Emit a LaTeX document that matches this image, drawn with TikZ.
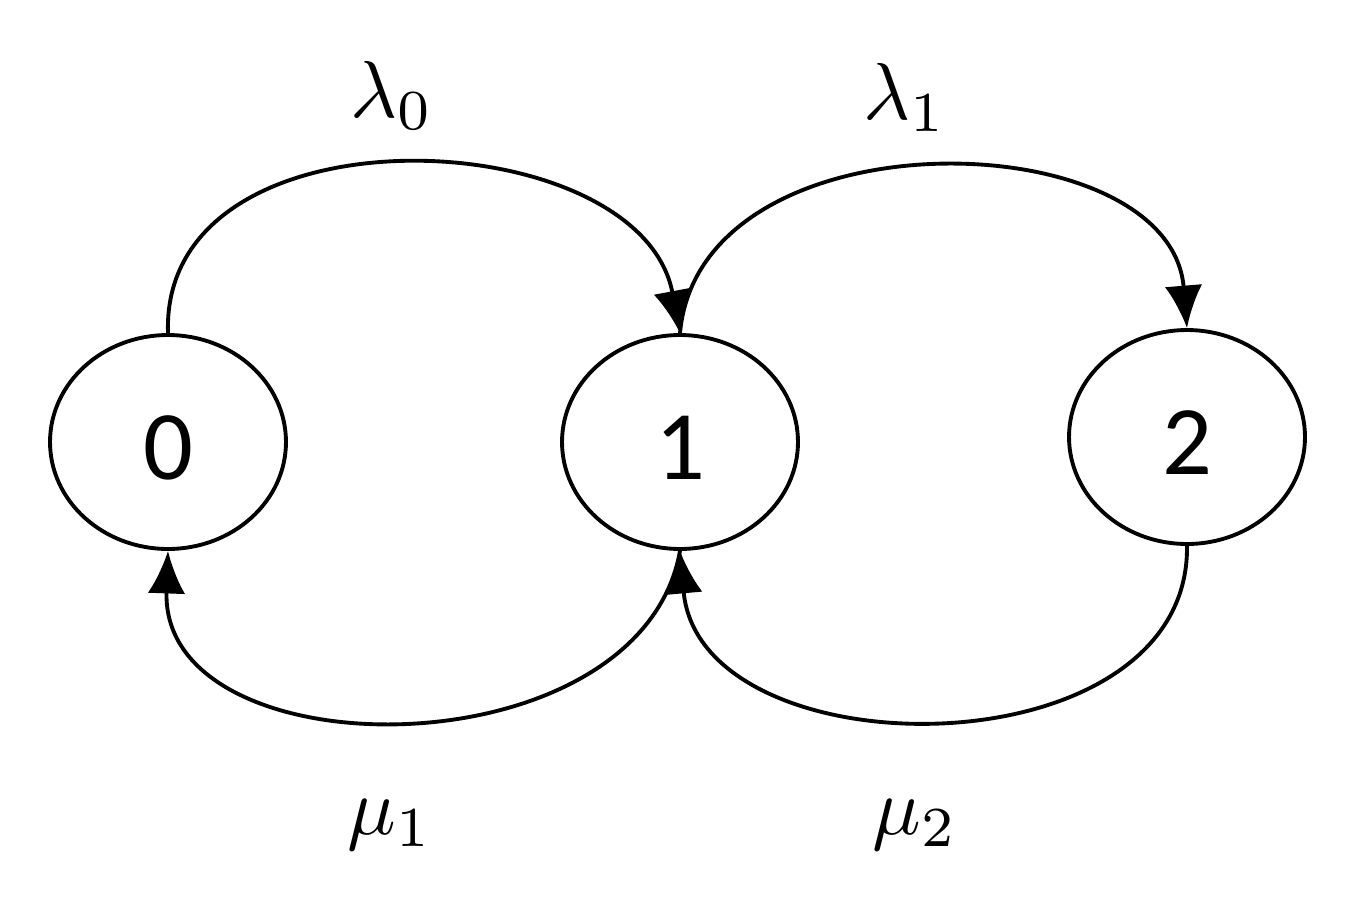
\documentclass[tikz,border=0pt]{standalone}
\usepackage{fontspec}
\newfontfamily\numfont{Carlito}
\usetikzlibrary{shapes.geometric,arrows.meta}
\begin{document}
\begin{tikzpicture}[x=0.02cm,y=-0.02cm,
  st/.style={ellipse,draw,line width=2.2pt,minimum width=4.72cm,minimum height=4.28cm,inner sep=0pt,font=\numfont\fontsize{56}{56}\selectfont},
  arr/.style={line width=2.2pt,-{Latex[length=0.85cm,width=0.75cm]}},
  lab/.style={}]
\useasboundingbox (0,0) rectangle (1348,917);
\node[st] (n0) at (168,442) {\smash{\raisebox{-0.75cm}{0}}};
\node[st] (n1) at (680,442) {\smash{\raisebox{-0.75cm}{1}}};
\node[st] (n2) at (1187,437) {\smash{\raisebox{-0.75cm}{2}}};
\draw[arr] (n0.north) .. controls (160,100) and (640,120) .. (n1.north);
\draw[arr] (n1.north) .. controls (700,110) and (1170,120) .. (n2.north);
\draw[arr] (n1.south) .. controls (640,775) and (160,775) .. (n0.south);
\draw[arr] (n2.south) .. controls (1190,775) and (700,775) .. (n1.south);
\node[lab] (l0) at (392,95) {\scalebox{4.6}{$\lambda_0$}};
\node[lab] (l1) at (905,97) {\scalebox{4.6}{$\lambda_1$}};
\node[lab] (m1) at (390,825) {\scalebox{4.6}{$\mu_1$}};
\node[lab] (m2) at (915,825) {\scalebox{4.6}{$\mu_2$}};
\end{tikzpicture}
\end{document}
